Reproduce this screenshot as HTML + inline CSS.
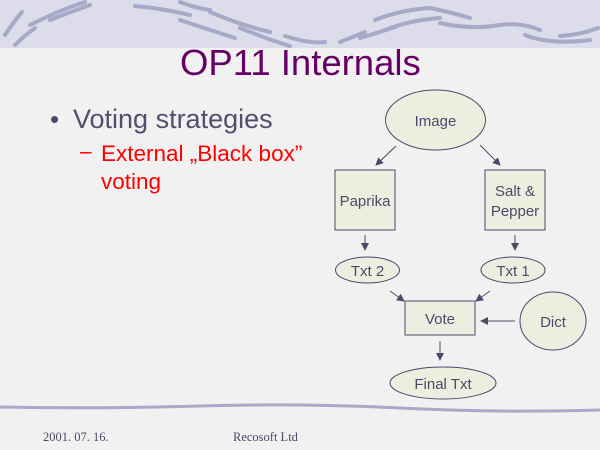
<!DOCTYPE html>
<html><head><style>
body{margin:0;width:600px;height:450px;overflow:hidden;background:#f1f1f1;font-family:"Liberation Sans",sans-serif;position:relative}
.t{position:absolute;white-space:nowrap}
</style></head><body>
<svg width="600" height="450" style="position:absolute;left:0;top:0">
<rect x="0" y="0" width="600" height="48" fill="#dcdcea"/>
<g stroke="#a8a8c8" stroke-width="4" fill="none" stroke-linecap="round">
<path d="M5 35 Q15 20 22 12"/><path d="M15 45 Q25 35 35 28"/><path d="M30 25 Q60 10 85 2"/>
<path d="M50 20 Q70 12 90 5"/><path d="M135 6 Q160 8 190 15"/><path d="M180 2 Q195 8 210 10"/>
<path d="M180 20 Q210 30 235 38"/><path d="M210 12 Q240 25 270 32"/><path d="M240 28 Q270 40 290 46"/>
<path d="M285 36 Q310 44 325 42"/><path d="M340 42 Q355 36 365 32"/><path d="M360 38 Q380 32 395 27"/>
<path d="M375 20 Q400 10 430 8 Q450 12 470 18"/><path d="M385 30 Q410 20 440 18"/>
<path d="M440 23 Q470 30 500 25 Q520 22 540 30"/><path d="M525 35 Q550 45 590 40"/><path d="M560 36 Q580 35 598 28"/>
</g>
<path d="M0 407 Q100 409 200 406 T400 408 T600 410" stroke="#a8a8c8" stroke-width="3" fill="none"/>
<g fill="#eeeee0" stroke="#4a4a6a" stroke-width="1">
<ellipse cx="435.5" cy="120" rx="50" ry="30"/>
<rect x="335" y="170" width="60" height="60"/>
<rect x="485" y="170" width="60" height="60"/>
<ellipse cx="367.5" cy="270" rx="32" ry="13"/>
<ellipse cx="513" cy="270" rx="32" ry="13"/>
<rect x="405" y="301" width="70" height="34"/>
<ellipse cx="553" cy="321" rx="33" ry="29"/>
<ellipse cx="443" cy="383" rx="53" ry="16"/>
</g>
<defs><marker id="a" markerWidth="8" markerHeight="8" refX="7" refY="4" orient="auto" markerUnits="userSpaceOnUse"><path d="M0 0 L8 4 L0 8 Z" fill="#4a4a6a"/></marker></defs>
<g stroke="#4a4a6a" stroke-width="1" marker-end="url(#a)">
<line x1="396" y1="146" x2="376" y2="165"/><line x1="480" y1="145" x2="500" y2="165"/>
<line x1="365" y1="235" x2="365" y2="250"/><line x1="515" y1="235" x2="515" y2="250"/>
<line x1="390" y1="291" x2="404" y2="301"/><line x1="490" y1="291" x2="476" y2="301"/>
<line x1="515" y1="321" x2="481" y2="321"/><line x1="440" y1="341" x2="440" y2="360"/>
</g>
<g fill="#4a4a6a" font-family="Liberation Sans,sans-serif" font-size="15" text-anchor="middle">
<text x="435.5" y="126">Image</text><text x="365" y="206">Paprika</text>
<text x="515" y="196">Salt &amp;</text><text x="515" y="216">Pepper</text>
<text x="367.5" y="276">Txt 2</text><text x="513" y="276">Txt 1</text>
<text x="440" y="324">Vote</text><text x="553" y="327">Dict</text><text x="443" y="389">Final Txt</text>
</g>
</svg>
<div class="t" style="left:180px;top:42px;font-size:36.5px;color:#660066">OP11 Internals</div>
<div class="t" style="left:50px;top:104px;font-size:26px;color:#4a4a6a">•</div>
<div class="t" style="left:73px;top:104px;font-size:27px;color:#50506e">Voting strategies</div>
<div class="t" style="left:80px;top:140px;font-size:21px;color:#ff0000">–</div>
<div class="t" style="left:101px;top:140px;font-size:22.5px;line-height:28px;color:#ff0000">External „Black box”<br>voting</div>
<div class="t" style="left:43px;top:430px;font-size:12.5px;font-family:'Liberation Serif',serif;color:#4a4a6a">2001. 07. 16.</div>
<div class="t" style="left:233px;top:430px;font-size:12.5px;font-family:'Liberation Serif',serif;color:#4a4a6a">Recosoft Ltd</div>
</body></html>
